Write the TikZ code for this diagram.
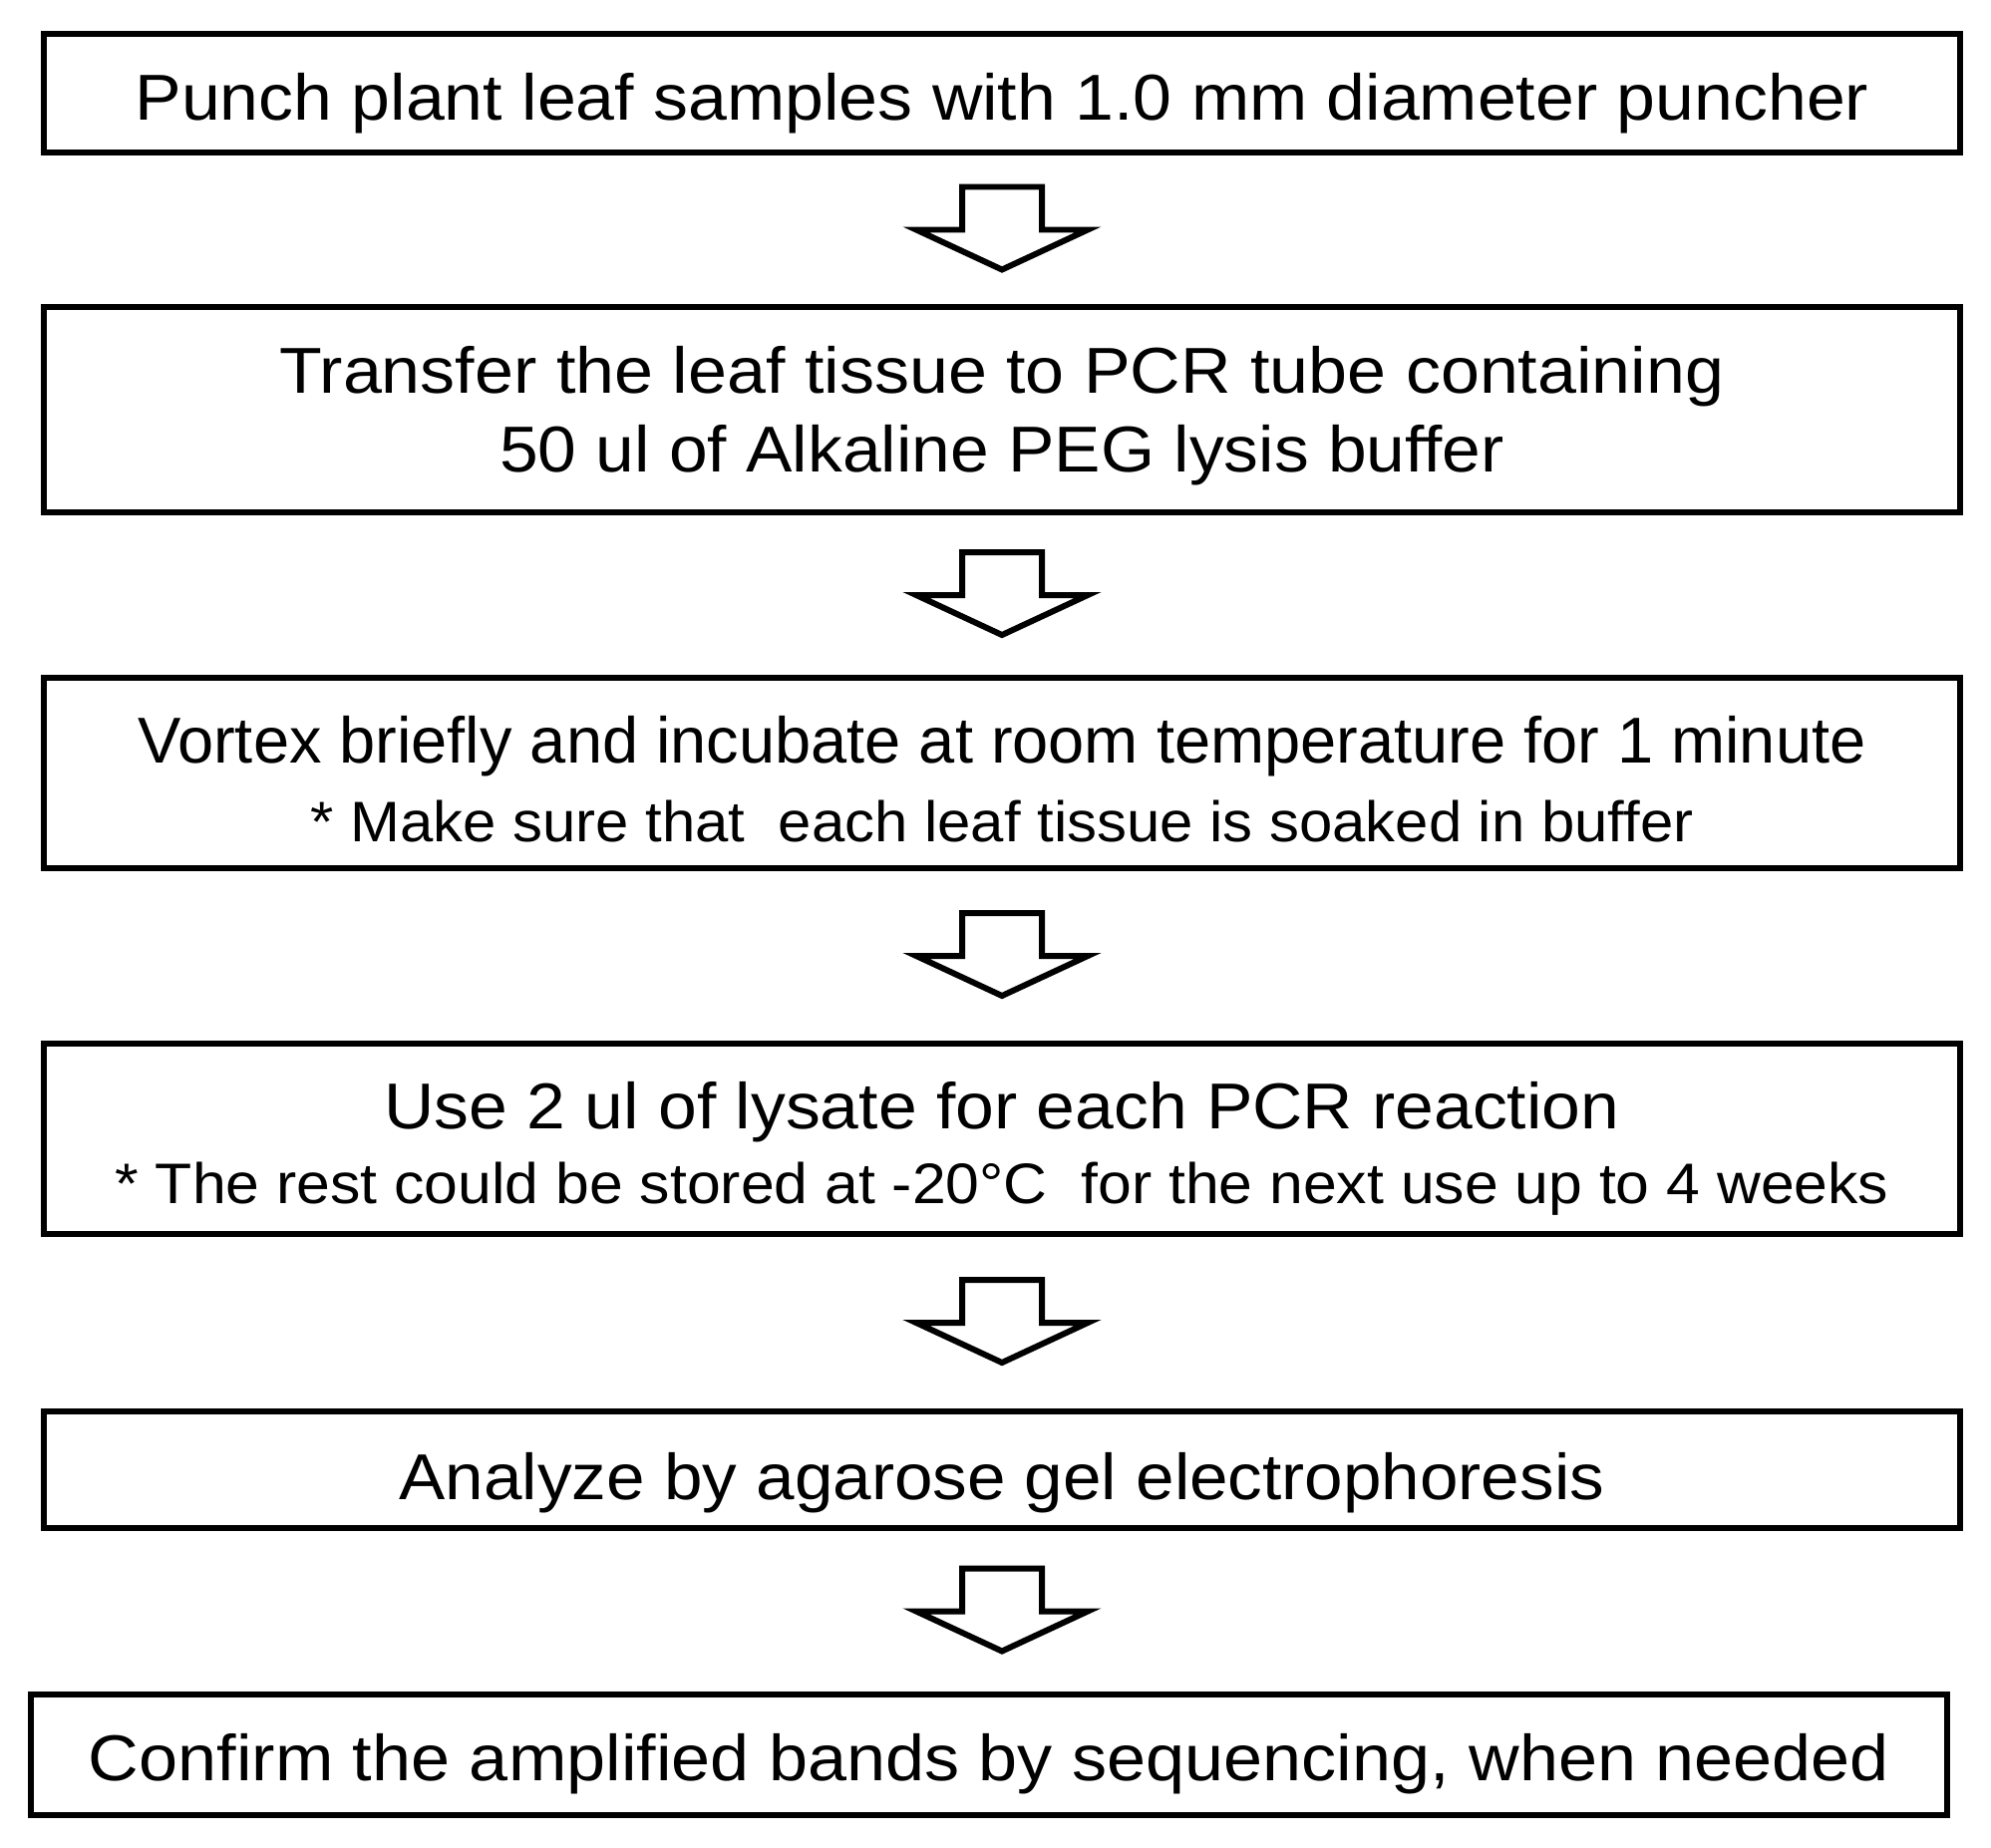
\documentclass[tikz,border=0pt]{standalone}
\usepackage{fontspec}
\setmainfont{Liberation Sans}
\usepackage{graphicx}
\usetikzlibrary{calc}

% one line of text, stretched to the width it has in the box and lowered a little
\newcommand{\fitline}[3][2.6pt]{\raisebox{-#1}[\height][\depth]{\resizebox{#2}{\height}{#3}}}
\newcommand{\steptext}{\fontsize{18.5}{22.4}\selectfont}
\newcommand{\notetext}{\fontsize{16.3}{22.4}\selectfont}

\tikzset{
  downarrow/.pic={
    \draw[flowarrow] (-40,-43) -- (40,-43) -- (40,0) -- (86,0) -- (0,40)
      -- (-86,0) -- (-40,0) -- cycle;
  }
}

\begin{document}
\begin{tikzpicture}[x=0.01cm,y=-0.01cm,
  stepbox/.style={draw,line width=1.7pt,minimum width=19.2cm,inner sep=0pt,
    outer sep=0pt,align=center,font=\steptext},
  flowarrow/.style={line width=1.7pt,miter limit=10,fill=white}]
  \useasboundingbox (0,0) rectangle (1997,1853);

  \node[stepbox,minimum height=1.19cm] (b1) at (1005,93.5)
    {\fitline[2.8pt]{17.38cm}{Punch plant leaf samples with 1.0 mm diameter puncher}};
  \node[stepbox,minimum height=2.06cm] (b2) at (1005,411)
    {\fitline[1.7pt]{14.48cm}{Transfer the leaf tissue to PCR tube containing}\\
     \fitline[1.7pt]{10.07cm}{50 ul of Alkaline PEG lysis buffer}};
  \node[stepbox,minimum height=1.91cm] (b3) at (1005,775.5)
    {\fitline[1.7pt]{17.32cm}{Vortex briefly and incubate at room temperature for 1 minute}\\
     {\notetext\fitline[1.7pt]{13.86cm}{* Make sure that\ \ each leaf tissue is soaked in buffer}}};
  \node[stepbox,minimum height=1.91cm] (b4) at (1005,1142.5)
    {\fitline[3.4pt]{12.38cm}{Use 2 ul of lysate for each PCR reaction}\\
     {\notetext\fitline[2.3pt]{17.78cm}{* The rest could be stored at -20°C\ \ for the next use up to 4 weeks}}};
  \node[stepbox,minimum height=1.17cm] (b5) at (1005,1474.5)
    {\fitline[3.7pt]{12.08cm}{Analyze by agarose gel electrophoresis}};
  \node[stepbox,minimum height=1.21cm] (b6) at (992,1760.5)
    {\fitline[2.6pt]{18.05cm}{Confirm the amplified bands by sequencing, when needed}};

  % block arrows halfway between the boxes
  \coordinate (m1) at ($(b1.south)!0.5!(b2.north)$);
  \coordinate (m2) at ($(b2.south)!0.5!(b3.north)$);
  \coordinate (m3) at ($(b3.south)!0.5!(b4.north)$);
  \coordinate (m4) at ($(b4.south)!0.5!(b5.north)$);
  \coordinate (m5) at ($(b5.south)!0.5!(b6.north -| b5.south)$);
  \foreach \m in {m1,m2,m3,m4,m5}
    \pic at (\m) {downarrow};
\end{tikzpicture}
\end{document}
